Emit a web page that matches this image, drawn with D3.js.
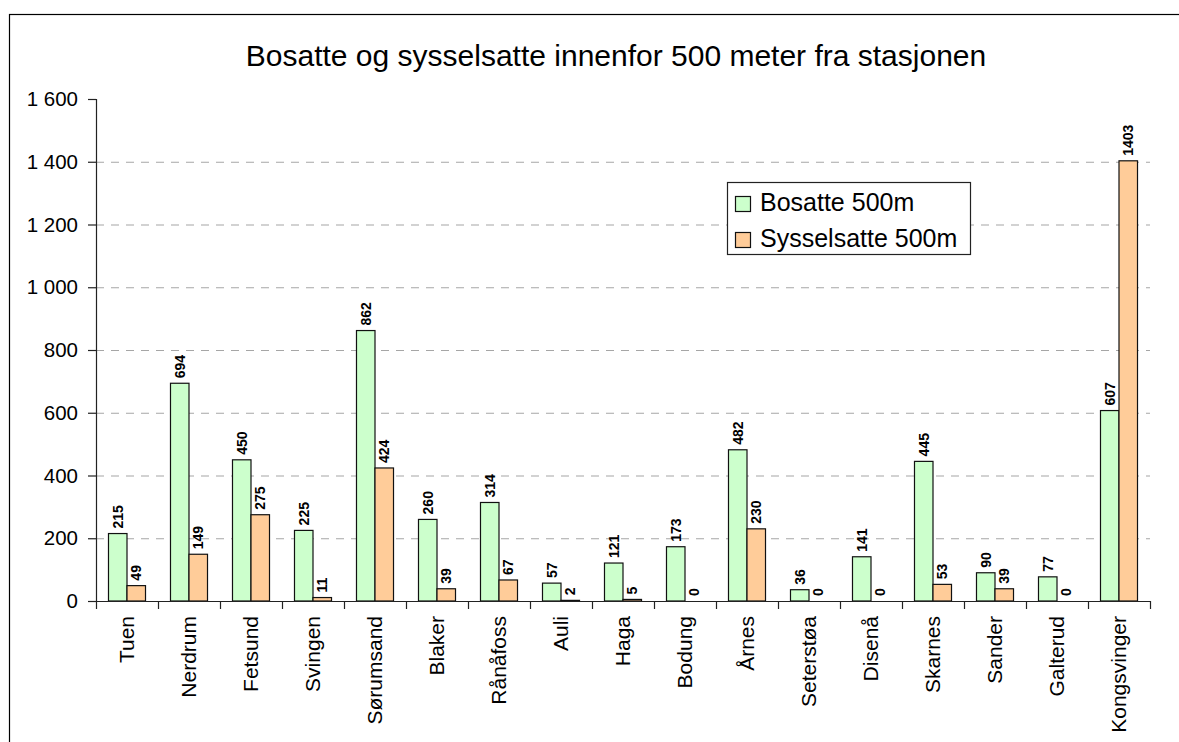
<!DOCTYPE html>
<html>
<head>
<meta charset="utf-8">
<script src="https://cdn.jsdelivr.net/npm/d3@7"></script>
<style>
  body { margin: 0; background: #fff; }
  svg { display: block; font-family: Arial, "Liberation Sans", sans-serif; }
</style>
</head>
<body>
<svg id="chart" width="1179" height="742"></svg>
<script>
// stations along the line and the two counts for each
var stations = ["Tuen", "Nerdrum", "Fetsund", "Svingen", "Sørumsand", "Blaker", "Rånåfoss",
    "Auli", "Haga", "Bodung", "Årnes", "Seterstøa", "Disenå", "Skarnes", "Sander", "Galterud", "Kongsvinger"];
var bosatte = [215, 694, 450, 225, 862, 260, 314, 57, 121, 173, 482, 36, 141, 445, 90, 77, 607];
var sysselsatte = [49, 149, 275, 11, 424, 39, 67, 2, 5, 0, 230, 0, 0, 53, 39, 0, 1403];
var seriesNames = ["Bosatte 500m", "Sysselsatte 500m"];
var seriesColors = ["#ccffcc", "#ffcc99"];
var yTicks = [0, 200, 400, 600, 800, 1000, 1200, 1400, 1600];

var svg = d3.select("#chart");

// outer frame (cut off at right and bottom like the original)
svg.append("rect")
    .attr("x", 9.5).attr("y", 14.5)
    .attr("width", 1300).attr("height", 900)
    .attr("fill", "none").attr("stroke", "#000").attr("stroke-width", 1.2);

svg.append("text")
    .attr("x", 616).attr("y", 66)
    .attr("text-anchor", "middle")
    .style("font-size", "30px")
    .text("Bosatte og sysselsatte innenfor 500 meter fra stasjonen");

var x = d3.scaleBand().domain(stations).range([96, 1150]).padding(0);
var xInner = d3.scaleBand().domain([0, 1]).range([0, x.bandwidth()]).paddingOuter(0.675).paddingInner(0);
var y = d3.scaleLinear().domain([0, 1600]).range([601, 99]);

var fmt = d3.formatLocale({ decimal: ",", thousands: " ", grouping: [3], currency: ["", ""] }).format(",d");

// gridlines
svg.append("g").selectAll("line")
    .data(yTicks.filter(function(d) { return d > 0 && d < 1600; }))
    .enter().append("line")
    .attr("x1", 96).attr("x2", 1150)
    .attr("y1", function(d) { return y(d) + 0.5; })
    .attr("y2", function(d) { return y(d) + 0.5; })
    .attr("stroke", "#a6a6a6").attr("stroke-width", 1.2)
    .attr("stroke-dasharray", "8,7");

// bars
var rows = stations.map(function(s, i) { return { name: s, vals: [bosatte[i], sysselsatte[i]] }; });
var groups = svg.append("g").selectAll("g")
    .data(rows).enter().append("g")
    .attr("transform", function(d) { return "translate(" + x(d.name) + ",0)"; });

groups.selectAll("rect")
    .data(function(d) { return d.vals.map(function(v, k) { return { v: v, k: k }; }).filter(function(e) { return e.v > 0; }); })
    .enter().append("rect")
    .attr("x", function(d) { return xInner(d.k); })
    .attr("width", xInner.bandwidth())
    .attr("y", function(d) { return y(d.v); })
    .attr("height", function(d) { return y(0) - y(d.v); })
    .attr("fill", function(d) { return seriesColors[d.k]; })
    .attr("stroke", "#111").attr("stroke-width", 1.2);

// value labels
groups.selectAll("text")
    .data(function(d) { return d.vals.map(function(v, k) { return { v: v, k: k }; }); })
    .enter().append("text")
    .attr("transform", function(d) {
        return "translate(" + (xInner(d.k) + xInner.bandwidth() / 2) + "," + (y(d.v) - 5) + ") rotate(-90)";
    })
    .attr("dy", "0.36em")
    .style("font-size", "14px").style("font-weight", "bold")
    .text(function(d) { return d.v; });

// y axis
var yAxis = svg.append("g")
    .attr("transform", "translate(96,0)")
    .call(d3.axisLeft(y).tickValues(yTicks).tickFormat(fmt).tickSize(8).tickPadding(10));
yAxis.selectAll("text").style("font-size", "20.5px").attr("fill", "#000");
yAxis.selectAll("line,path").attr("stroke", "#222").attr("stroke-width", 1.2);
yAxis.select(".domain").attr("d", "M0.5," + y(1600) + "V" + y(0));

// x axis
var xAxis = svg.append("g")
    .attr("transform", "translate(0," + y(0) + ")")
    .call(d3.axisBottom(x).tickSize(0));
xAxis.select(".domain").attr("d", "M96,0.5H1150").attr("stroke", "#222").attr("stroke-width", 1.2);
xAxis.selectAll(".tick text")
    .attr("transform", "rotate(-90)")
    .attr("x", -15).attr("y", 0).attr("dy", "0.35em")
    .style("text-anchor", "end").style("font-size", "21px").attr("fill", "#000");
xAxis.append("g").selectAll("line")
    .data(stations.map(function(s) { return x(s); }).concat([1150]))
    .enter().append("line")
    .attr("x1", function(d) { return d + 0.5; }).attr("x2", function(d) { return d + 0.5; })
    .attr("y1", 0).attr("y2", 8)
    .attr("stroke", "#222").attr("stroke-width", 1.2);

// legend
var legend = svg.append("g").attr("transform", "translate(727,182)");
legend.append("rect")
    .attr("x", 0.5).attr("y", 0.5).attr("width", 243).attr("height", 72)
    .attr("fill", "#fff").attr("stroke", "#222").attr("stroke-width", 1.2);
var items = legend.selectAll("g.item").data(seriesNames).enter().append("g")
    .attr("transform", function(d, i) { return "translate(0," + (i * 36) + ")"; });
items.append("rect")
    .attr("x", 8.5).attr("y", 14.5).attr("width", 15).attr("height", 15)
    .attr("fill", function(d, i) { return seriesColors[i]; })
    .attr("stroke", "#111").attr("stroke-width", 1.2);
items.append("text")
    .attr("x", 33).attr("y", 29)
    .style("font-size", "25px")
    .text(function(d) { return d; });
</script>
</body>
</html>
